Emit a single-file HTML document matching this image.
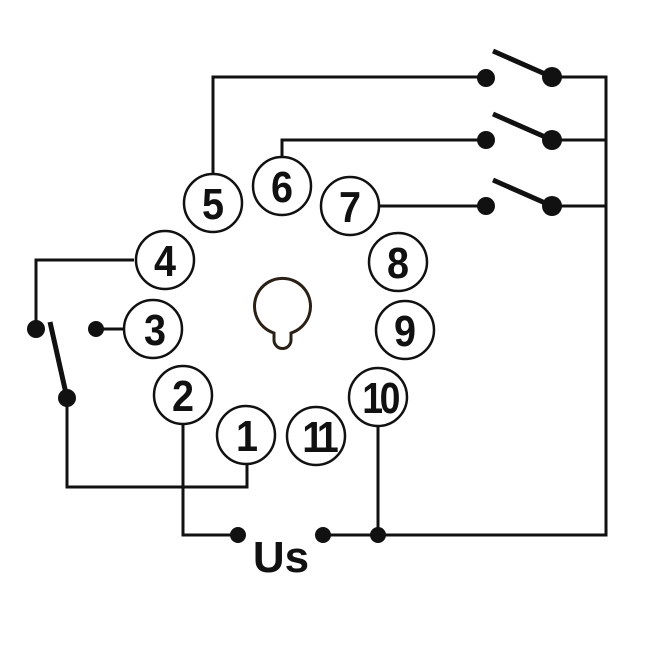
<!DOCTYPE html>
<html><head><style>body{margin:0;background:#fff}</style></head><body>
<svg width="649" height="649" viewBox="0 0 649 649" xmlns="http://www.w3.org/2000/svg" font-family="Liberation Sans, sans-serif" font-weight="bold">
<g fill="none" stroke="#111" stroke-width="3">
<polyline points="213,174 213,77 487,77"/>
<polyline points="282,157 282,140 487,140"/>
<line x1="379" y1="206" x2="487" y2="206"/>
<polyline points="552,77 606,77 606,535 323,535"/>
<line x1="552" y1="140" x2="606" y2="140"/>
<line x1="552" y1="206" x2="606" y2="206"/>
<polyline points="134,260 36,260 36,329"/>
<line x1="96" y1="329" x2="124" y2="329"/>
<polyline points="67,398 67,487 247,487 247,464"/>
<polyline points="183,424 183,535 238,535"/>
<line x1="378" y1="426" x2="378" y2="535"/>
</g>
<g stroke="#111" stroke-width="5">
<line x1="493" y1="51" x2="552" y2="77"/>
<line x1="493" y1="114" x2="552" y2="140"/>
<line x1="493" y1="180" x2="552" y2="206"/>
<line x1="50" y1="322" x2="67" y2="398"/>
</g>
<g fill="#111">
<circle cx="486" cy="78" r="9"/><circle cx="552" cy="77" r="10"/>
<circle cx="486" cy="140" r="9"/><circle cx="552" cy="140" r="10"/>
<circle cx="486" cy="206" r="9"/><circle cx="552" cy="206" r="10"/>
<circle cx="36" cy="329" r="9"/><circle cx="67" cy="398" r="9"/>
<circle cx="96" cy="329" r="8"/>
<circle cx="238" cy="535" r="8"/><circle cx="323" cy="535" r="8"/><circle cx="378" cy="535" r="8"/>
</g>
<g fill="#fff" stroke="#111" stroke-width="2.5">
<circle cx="213" cy="203" r="29"/><circle cx="282" cy="186" r="29"/><circle cx="350" cy="206" r="29"/>
<circle cx="165" cy="260" r="29"/><circle cx="398" cy="262" r="29"/>
<circle cx="153" cy="329" r="29"/><circle cx="405" cy="330" r="29"/>
<circle cx="183" cy="395" r="29"/><circle cx="378" cy="397" r="29"/>
<circle cx="246" cy="435" r="29"/><circle cx="316" cy="436" r="29"/>
</g>
<path d="M274,333 A28,28 0 1 1 291,333 L291,340 A8.5,8.5 0 0 1 274,340 Z" fill="none" stroke="#2a2015" stroke-width="3"/>
<g font-size="44" text-anchor="middle" fill="#111">
<text x="213" y="219" transform="translate(213 0) scale(0.9 1) translate(-213 0)">5</text>
<text x="282" y="202" transform="translate(282 0) scale(0.9 1) translate(-282 0)">6</text>
<text x="350" y="222" transform="translate(350 0) scale(0.9 1) translate(-350 0)">7</text>
<text x="165" y="276" transform="translate(165 0) scale(0.9 1) translate(-165 0)">4</text>
<text x="398" y="278" transform="translate(398 0) scale(0.9 1) translate(-398 0)">8</text>
<text x="155" y="345" transform="translate(155 0) scale(0.9 1) translate(-155 0)">3</text>
<text x="405" y="346" transform="translate(405 0) scale(0.9 1) translate(-405 0)">9</text>
<text x="183" y="411" transform="translate(183 0) scale(0.9 1) translate(-183 0)">2</text>
<text x="380" y="413" letter-spacing="-4" transform="translate(378 0) scale(0.85 1) translate(-378 0)">10</text>
<text x="247" y="451" transform="translate(247 0) scale(0.9 1) translate(-247 0)">1</text>
<text x="318" y="452" letter-spacing="-6" transform="translate(316 0) scale(0.9 1) translate(-316 0)">11</text>
<text x="281" y="572" font-size="44">Us</text>
</g>
</svg>
</body></html>
